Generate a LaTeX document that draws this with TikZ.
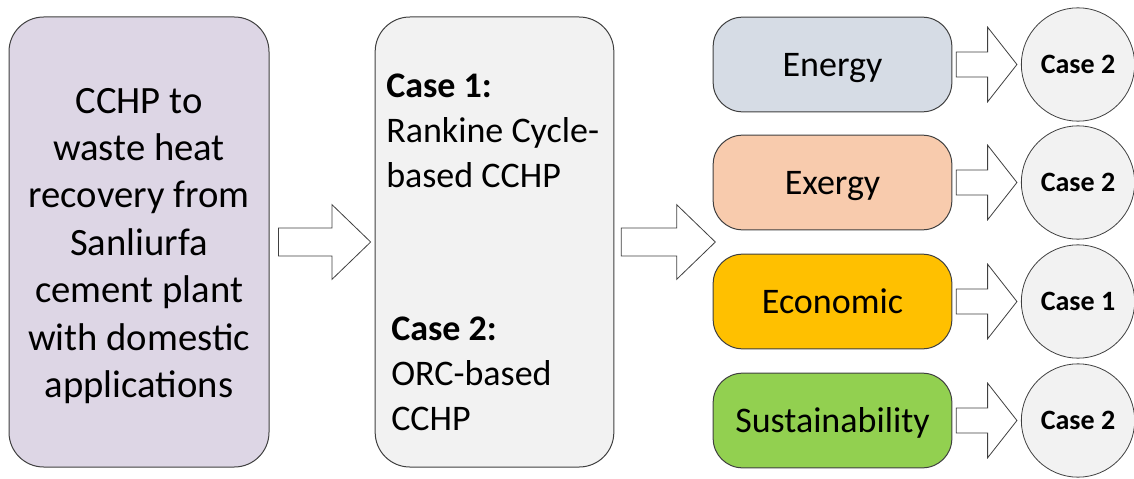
\documentclass[tikz,border=0pt]{standalone}
\usepackage{fontspec}
\setmainfont{Carlito}
\usetikzlibrary{calc}

\definecolor{srcfill}{HTML}{DDD6E5}
\definecolor{casefill}{HTML}{F2F2F2}
\definecolor{energyfill}{HTML}{D6DCE5}
\definecolor{exergyfill}{HTML}{F8CBAD}
\definecolor{econfill}{HTML}{FFC000}
\definecolor{sustfill}{HTML}{92D050}
\definecolor{edge}{HTML}{404040}

% hollow block arrow: from, to, head length, shaft half-width, head half-width
\newcommand{\fatarrow}[5]{%
  \draw[fatline] let \p1=(#1), \p2=(#2) in
    (\x1,\y1+#4) -- (\x2-#3,\y1+#4) -- (\x2-#3,\y1+#5) -- (\x2,\y1)
    -- (\x2-#3,\y1-#5) -- (\x2-#3,\y1-#4) -- (\x1,\y1-#4) -- cycle;}

\begin{document}
\begin{tikzpicture}[x=0.75pt,y=-0.75pt,
  fatline/.style={draw=edge, line width=0.6pt, fill=white, line join=miter},
  tallbox/.style={draw=edge, line width=0.75pt, rounded corners=26pt,
    minimum width=#1, minimum height=337.5pt, inner sep=0pt},
  catbox/.style={draw=edge, line width=0.75pt, rounded corners=22pt,
    minimum width=179pt, minimum height=71pt, inner sep=0pt,
    text height=17.5pt, text depth=0pt,
    font=\fontsize{27}{33}\selectfont},
  result/.style={circle, draw=edge, line width=0.6pt, fill=casefill,
    minimum size=85pt, inner sep=0pt, text height=13pt, text depth=0pt,
    font=\fontsize{21}{25}\selectfont\bfseries},
  casetext/.style={anchor=base west, align=left, inner sep=0pt,
    font=\fontsize{27}{33.75}\selectfont}]

\useasboundingbox (0,0) rectangle (1134,478);

% source description
\node[tallbox=195pt, fill=srcfill] (src) at (139,242) {};
\node[align=center, inner sep=0pt, font=\fontsize{29}{35.6}\selectfont] (srct) at (139,246)
  {CCHP to\\waste heat\\recovery from\\Sanliurfa\\cement plant\\with domestic\\applications};

% the two system configurations
\node[tallbox=179pt, fill=casefill] (mid) at (494.5,242) {};
\node[casetext] (c1) at (386,187) {\textbf{Case 1:}\\Rankine Cycle-\\based CCHP};
\node[casetext] (c2) at (391,430) {\textbf{Case 2:}\\ORC-based\\CCHP};

% assessment criteria
\node[catbox, fill=energyfill] (en) at (832.5,64.5) {Energy};
\node[catbox, fill=exergyfill] (ex) at (832.5,182.5) {Exergy};
\node[catbox, fill=econfill]   (ec) at (832.5,301.5) {Economic};
\node[catbox, fill=sustfill]   (su) at (832.5,420.5) {Sustainability};

% best case per criterion
\node[result] (ren) at (1078,64.5)  {Case 2};
\node[result] (rex) at (1078,182.5) {Case 2};
\node[result] (rec) at (1078,301.5) {Case 1};
\node[result] (rsu) at (1078,420.5) {Case 2};

% block arrows
\coordinate (a1s) at ($(src.east)+(9,0)$);
\coordinate (a1t) at ($(mid.west)+(-4,0)$);
\coordinate (a2s) at ($(mid.east)+(7,0)$);
\coordinate (a2t) at ($(mid.east)+(101,0)$);
\fatarrow{a1s}{a1t}{29pt}{10.5pt}{28pt}
\fatarrow{a2s}{a2t}{29pt}{10.5pt}{28pt}

\foreach \b/\r in {en/ren, ex/rex, ec/rec, su/rsu}{
  \coordinate (s-\b) at ($(\b.east)+(4,0)$);
  \coordinate (t-\b) at ($(\r.west)+(-4,0)$);
  \fatarrow{s-\b}{t-\b}{22pt}{9.4pt}{28pt}
}
\end{tikzpicture}
\end{document}
